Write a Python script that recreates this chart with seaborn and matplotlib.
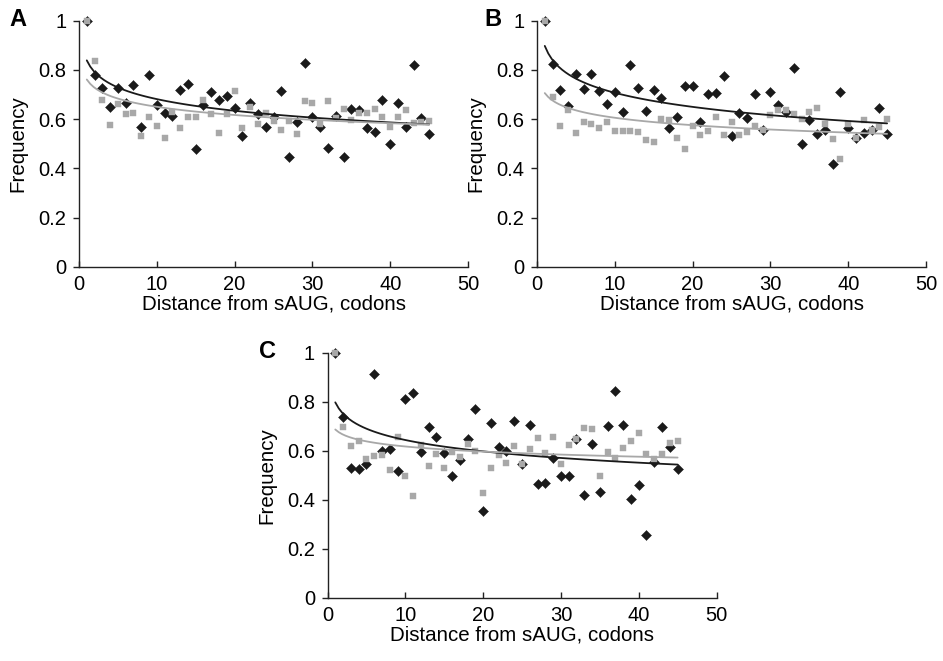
import numpy as np
import pandas as pd
import seaborn as sns
from matplotlib import pyplot as plt

# codon distance from sAUG (same for all three panels)
dist = list(range(1, 46))

# panel A
a_black = [1.0, 0.78, 0.727, 0.65, 0.727, 0.667, 0.738, 0.567, 0.779, 0.656,
           0.624, 0.614, 0.719, 0.744, 0.478, 0.656, 0.711, 0.678, 0.695, 0.646,
           0.53, 0.667, 0.621, 0.567, 0.61, 0.714, 0.447, 0.587, 0.828, 0.607,
           0.569, 0.482, 0.613, 0.448, 0.64, 0.635, 0.564, 0.546, 0.678, 0.499,
           0.667, 0.569, 0.82, 0.605, 0.54]
a_gray = [1.0, 0.836, 0.678, 0.578, 0.662, 0.621, 0.624, 0.53, 0.61, 0.571,
          0.523, 0.629, 0.564, 0.607, 0.61, 0.676, 0.621, 0.542, 0.621, 0.714,
          0.564, 0.648, 0.58, 0.624, 0.594, 0.556, 0.591, 0.54, 0.673, 0.664,
          0.58, 0.673, 0.605, 0.64, 0.597, 0.624, 0.624, 0.643, 0.61, 0.567,
          0.607, 0.638, 0.583, 0.587, 0.594]

# panel B
b_black = [1.0, 0.822, 0.717, 0.655, 0.782, 0.724, 0.782, 0.714, 0.66, 0.709,
           0.629, 0.82, 0.725, 0.633, 0.717, 0.687, 0.565, 0.609, 0.733, 0.733,
           0.587, 0.703, 0.706, 0.774, 0.531, 0.625, 0.606, 0.703, 0.555, 0.71,
           0.656, 0.63, 0.806, 0.5, 0.595, 0.541, 0.557, 0.419, 0.709, 0.565,
           0.522, 0.543, 0.555, 0.647, 0.54]
b_gray = [1.0, 0.69, 0.573, 0.638, 0.544, 0.59, 0.582, 0.565, 0.59, 0.552,
          0.552, 0.552, 0.546, 0.517, 0.509, 0.6, 0.595, 0.522, 0.479, 0.573,
          0.535, 0.551, 0.608, 0.535, 0.589, 0.535, 0.546, 0.573, 0.555, 0.617,
          0.638, 0.635, 0.62, 0.6, 0.628, 0.644, 0.579, 0.521, 0.438, 0.581,
          0.522, 0.595, 0.557, 0.567, 0.6]

# panel C
c_black = [1.0, 0.736, 0.529, 0.524, 0.546, 0.913, 0.599, 0.607, 0.517, 0.812,
           0.834, 0.596, 0.696, 0.655, 0.589, 0.497, 0.562, 0.647, 0.769, 0.354,
           0.714, 0.616, 0.599, 0.722, 0.544, 0.704, 0.464, 0.467, 0.57, 0.498,
           0.498, 0.649, 0.418, 0.627, 0.431, 0.701, 0.842, 0.704, 0.404, 0.461,
           0.255, 0.554, 0.696, 0.616, 0.527]
c_gray = [1.0, 0.696, 0.619, 0.638, 0.565, 0.578, 0.584, 0.521, 0.657, 0.497,
          0.416, 0.623, 0.538, 0.587, 0.529, 0.595, 0.573, 0.627, 0.6, 0.429,
          0.529, 0.582, 0.551, 0.62, 0.544, 0.608, 0.652, 0.589, 0.657, 0.546,
          0.625, 0.649, 0.693, 0.69, 0.497, 0.595, 0.57, 0.611, 0.641, 0.673,
          0.587, 0.567, 0.587, 0.633, 0.641]

x_ticks = [0, 10, 20, 30, 40, 50]
y_ticks = [0, 0.2, 0.4, 0.6, 0.8, 1.0]
y_ticklabels = ['0', '0.2', '0.4', '0.6', '0.8', '1']

sns.set_style('ticks')
plt.rcParams['font.family'] = ['Liberation Sans', 'DejaVu Sans']
plt.rcParams['text.color'] = 'black'
plt.rcParams['axes.labelcolor'] = 'black'
plt.rcParams['xtick.color'] = '#222222'
plt.rcParams['ytick.color'] = '#222222'
plt.rcParams['xtick.labelcolor'] = 'black'
plt.rcParams['ytick.labelcolor'] = 'black'

BLACK = '#1a1a1a'
GRAY = '#a8a8a8'
FS = 14.5

fig = plt.figure(figsize=(9.43, 6.61), dpi=100)


def panel(rect, black, gray, letter, letter_xy):
    ax = fig.add_axes(rect)
    df = pd.DataFrame({'d': dist, 'black': black, 'gray': gray})
    sns.scatterplot(data=df, x='d', y='black', marker='D', s=26, color=BLACK,
                    edgecolor=BLACK, linewidth=0.3, ax=ax, zorder=3, clip_on=False)
    sns.scatterplot(data=df, x='d', y='gray', marker='s', s=14, color=GRAY,
                    edgecolor=GRAY, linewidth=0.3, ax=ax, zorder=4, clip_on=False)
    # logarithmic trend lines
    sns.regplot(data=df, x='d', y='black', logx=True, scatter=False, ci=None,
                ax=ax, line_kws={'color': BLACK, 'lw': 1.3, 'zorder': 5})
    sns.regplot(data=df, x='d', y='gray', logx=True, scatter=False, ci=None,
                ax=ax, line_kws={'color': GRAY, 'lw': 1.3, 'zorder': 5})
    ax.set_xlim(0, 50)
    ax.set_ylim(0, 1)
    ax.set_xticks(x_ticks)
    ax.set_xticklabels([str(t) for t in x_ticks], fontsize=FS)
    ax.set_yticks(y_ticks)
    ax.set_yticklabels(y_ticklabels, fontsize=FS)
    ax.tick_params(axis='x', direction='in', length=4, width=1, pad=6)
    ax.tick_params(axis='y', direction='out', length=4, width=1, pad=5)
    for s in ['left', 'bottom']:
        ax.spines[s].set_linewidth(1)
        ax.spines[s].set_color('#222222')
    sns.despine(ax=ax)
    ax.set_xlabel('Distance from sAUG, codons', fontsize=14.8, labelpad=0)
    ax.set_ylabel('Frequency', fontsize=14.8, labelpad=8)
    fig.text(letter_xy[0] / 943, 1 - letter_xy[1] / 661, letter, fontsize=17,
             fontweight='bold', ha='center', va='center')
    return ax


panel([79 / 943, 1 - 267 / 661, 389 / 943, 246.5 / 661], a_black, a_gray, 'A', (18, 20))
panel([537 / 943, 1 - 267 / 661, 389 / 943, 246.5 / 661], b_black, b_gray, 'B', (493, 20))
panel([327.5 / 943, 1 - 597.7 / 661, 389 / 943, 245 / 661], c_black, c_gray, 'C', (267, 352))

fig.savefig('out.png', dpi=100)
